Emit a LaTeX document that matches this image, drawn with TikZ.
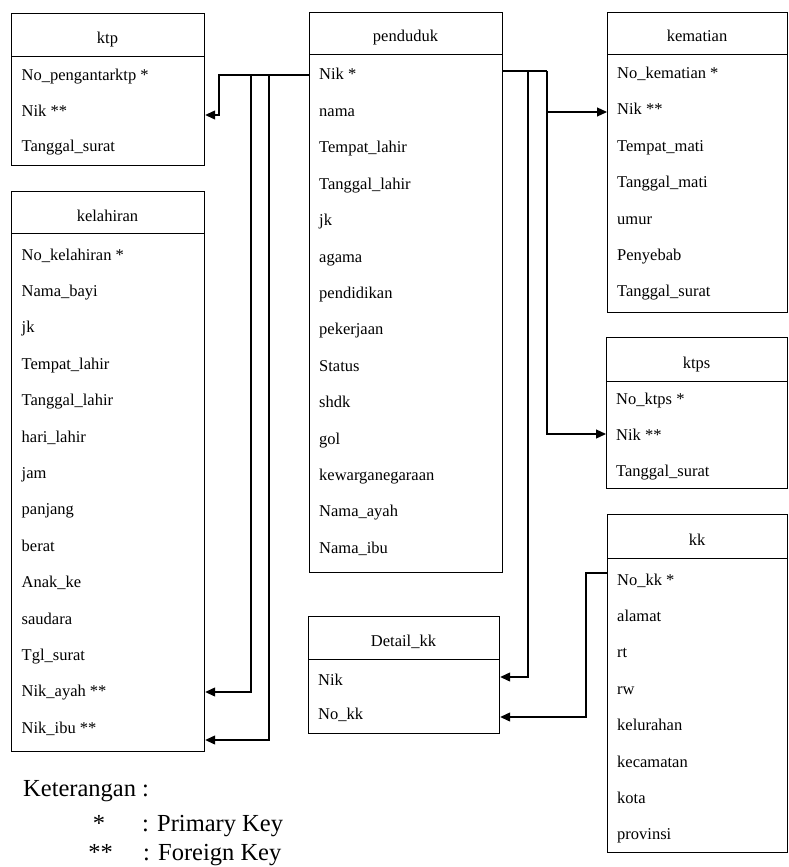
\documentclass[tikz,border=0pt]{standalone}
\usepackage{fontspec}
\setmainfont{Liberation Serif}
\usetikzlibrary{arrows.meta}
\begin{document}
\begin{tikzpicture}[x=1pt,y=-1pt,
  tbl/.style={draw, line width=1.2pt, anchor=north west, inner sep=0pt},
  hdrtxt/.style={anchor=base, inner sep=0pt, font=\fontsize{16.5}{18}\selectfont},
  rowtxt/.style={anchor=base west, inner sep=0pt, font=\fontsize{16.5}{18}\selectfont},
  conn/.style={line width=1.2pt},
  arr/.style={conn, -{Triangle[length=10pt,width=9pt]}},
  legend/.style={anchor=base west, inner sep=0pt, font=\fontsize{24.5}{28}\selectfont}]
\useasboundingbox (0,0) rectangle (788,867);

% ---------- ktp ----------
\node[tbl, minimum width=193pt, minimum height=43pt] (ktph) at (11,13) {};
\node[tbl, minimum width=193pt, minimum height=109pt] (ktpb) at (11,56) {};
\node[hdrtxt] (ktpt) at (107.5,43.5) {ktp};
\foreach \t [count=\i from 0] in {No\_pengantarktp *, Nik **, Tanggal\_surat}
  \node[rowtxt] (ktp\i) at (21.5,{81+35*\i}) {\t};

% ---------- kelahiran ----------
\node[tbl, minimum width=193pt, minimum height=42pt] (kelh) at (11,191) {};
\node[tbl, minimum width=193pt, minimum height=518pt] (kelb) at (11,233) {};
\node[hdrtxt] (kelt) at (107.5,221) {kelahiran};
\foreach \t [count=\i from 0] in {No\_kelahiran *, Nama\_bayi, jk, Tempat\_lahir, Tanggal\_lahir, hari\_lahir, jam, panjang, berat, Anak\_ke, saudara, Tgl\_surat, Nik\_ayah **, Nik\_ibu **}
  \node[rowtxt] (kel\i) at (21.5,{260+36.4*\i}) {\t};

% ---------- penduduk ----------
\node[tbl, minimum width=193pt, minimum height=42pt] (penh) at (309,12) {};
\node[tbl, minimum width=193pt, minimum height=518pt] (penb) at (309,54) {};
\node[hdrtxt] (pent) at (405.5,42) {penduduk};
\foreach \t [count=\i from 0] in {Nik *, nama, Tempat\_lahir, Tanggal\_lahir, jk, agama, pendidikan, pekerjaan, Status, shdk, gol, kewarganegaraan, Nama\_ayah, Nama\_ibu}
  \node[rowtxt] (pen\i) at (319,{80+36.4*\i}) {\t};

% ---------- Detail_kk ----------
\node[tbl, minimum width=191pt, minimum height=43pt] (dkh) at (308,616) {};
\node[tbl, minimum width=191pt, minimum height=74pt] (dkb) at (308,659) {};
\node[hdrtxt] (dkt) at (403.5,646.5) {Detail\_kk};
\node[rowtxt] (dk0) at (318,685) {Nik};
\node[rowtxt] (dk1) at (318,719) {No\_kk};

% ---------- kematian ----------
\node[tbl, minimum width=180pt, minimum height=42pt] (kemh) at (607,12) {};
\node[tbl, minimum width=180pt, minimum height=258pt] (kemb) at (607,54) {};
\node[hdrtxt] (kemt) at (697,42) {kematian};
\foreach \t [count=\i from 0] in {No\_kematian *, Nik **, Tempat\_mati, Tanggal\_mati, umur, Penyebab, Tanggal\_surat}
  \node[rowtxt] (kem\i) at (617,{78.5+36.4*\i}) {\t};

% ---------- ktps ----------
\node[tbl, minimum width=181pt, minimum height=44pt] (ktpsh) at (606,337) {};
\node[tbl, minimum width=181pt, minimum height=107pt] (ktpsb) at (606,381) {};
\node[hdrtxt] (ktpst) at (696.5,368) {ktps};
\foreach \t [count=\i from 0] in {No\_ktps *, Nik **, Tanggal\_surat}
  \node[rowtxt] (ktps\i) at (616,{404+36*\i}) {\t};

% ---------- kk ----------
\node[tbl, minimum width=180pt, minimum height=44pt] (kkh) at (607,514) {};
\node[tbl, minimum width=180pt, minimum height=294pt] (kkb) at (607,558) {};
\node[hdrtxt] (kkt) at (697,545) {kk};
\foreach \t [count=\i from 0] in {No\_kk *, alamat, rt, rw, kelurahan, kecamatan, kota, provinsi}
  \node[rowtxt] (kk\i) at (617,{585+36.4*\i}) {\t};

% ---------- connectors ----------
\coordinate (pl) at (penb.west |- 0,75);
\coordinate (pr) at (penb.east |- 0,71);
\coordinate (jl1) at (251,75);
\coordinate (jl2) at (269,75);
\coordinate (jr1) at (528,71);
\coordinate (jr2) at (547,71);
\coordinate (jr3) at (547,112);
\draw[arr] (pl) -| (219,115) -- (ktpb.east |- 0,115);
\draw[arr] (jl1) |- (kelb.east |- 0,692);
\draw[arr] (jl2) |- (kelb.east |- 0,740);
\draw[conn] (pr) -- (jr2);
\draw[arr] (jr2) |- (kemb.west |- 0,112);
\draw[arr] (jr3) |- (ktpsb.west |- 0,434);
\draw[arr] (jr1) |- (dkb.east |- 0,677);
\draw[arr] (kkb.west |- 0,573) -| (586,717) -- (dkb.east |- 0,717);

% ---------- legend ----------
\node[legend] (ket) at (23,796) {Keterangan :};
\node[legend, anchor=base] (s1) at (99,831) {*};
\node[legend] (pk) at (142,831) {: Primary Key};
\node[legend, anchor=base] (s2) at (100.5,860) {**};
\node[legend] (fk) at (143,860) {: Foreign Key};
\end{tikzpicture}
\end{document}
